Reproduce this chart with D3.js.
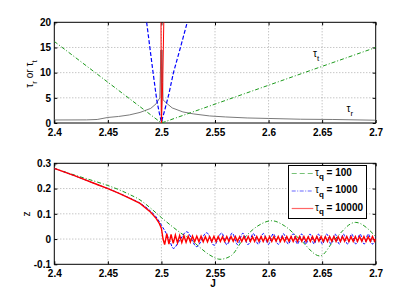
<!DOCTYPE html>
<html><head><meta charset="utf-8">
<script src="https://cdn.jsdelivr.net/npm/d3@7"></script>
<style>body{margin:0;background:#fff}svg{display:block}text{font-family:"Liberation Sans",Arial,sans-serif}</style>
</head><body><svg id="c" width="415" height="298"></svg>
<script>
// ---------- data ----------
const xTickValues = [2.4, 2.45, 2.5, 2.55, 2.6, 2.65, 2.7];
const xTickLabels = ["2.4", "2.45", "2.5", "2.55", "2.6", "2.65", "2.7"];
const topYTickValues = [0, 5, 10, 15, 20];
const topYTickLabels = ["0", "5", "10", "15", "20"];
const botYTickValues = [-0.1, 0, 0.1, 0.2, 0.3];
const botYTickLabels = ["-0.1", "0", "0.1", "0.2", "0.3"];
const legendLabels = ["100", "1000", "10000"];

// top panel: tau_t for each tau_q and tau_r  [J, tau]
const tauT100 = [[2.4, 16.2], [2.5, 0], [2.7, 15]];
const tauT1000 = [[2.4862, 20], [2.4892, 15], [2.4922, 10], [2.4956, 4.6], [2.498, 2], [2.5, 0.2],
  [2.503, 2.5], [2.507, 5.8], [2.5111, 9.9], [2.518, 15.2], [2.5241, 20]];
const tauT10000 = [[2.4996, 20], [2.4999, 3], [2.5, 0], [2.5012, 8], [2.5022, 20]];
const tauR = [[2.4, 0.6], [2.43, 0.62], [2.44, 0.7], [2.45, 1.1], [2.46, 1.3], [2.47, 1.6], [2.48, 2.1],
  [2.49, 2.9], [2.495, 3.8], [2.4985, 5.0], [2.4995, 14.5], [2.5, 0.3], [2.5005, 14.5], [2.5015, 4.6],
  [2.505, 3.9], [2.51, 3.0], [2.52, 2.2], [2.53, 1.8], [2.545, 1.4], [2.56, 1.2], [2.58, 1.0],
  [2.6, 0.9], [2.63, 0.75], [2.66, 0.7], [2.7, 0.55]];

// bottom panel: z for each tau_q  [J, z]
const z100 = [[2.4, 0.28], [2.42, 0.252], [2.44, 0.226], [2.45, 0.212], [2.46, 0.196], [2.47, 0.177],
  [2.48, 0.155], [2.49, 0.122], [2.5, 0.085], [2.51, 0.05], [2.52, 0.018], [2.527, 0], [2.535, -0.03],
  [2.545, -0.063], [2.5547, -0.08], [2.565, -0.066], [2.5765, 0], [2.59, 0.052], [2.603, 0.0725],
  [2.615, 0.052], [2.629, 0], [2.648, -0.067], [2.662, 0], [2.681, 0.066], [2.7, 0.01]];
const z1000 = [[2.4, 0.28], [2.42, 0.249], [2.44, 0.216], [2.45, 0.2], [2.46, 0.182], [2.47, 0.163],
  [2.48, 0.142], [2.49, 0.11], [2.495, 0.088], [2.5, 0.055], [2.505, 0.018], [2.508, -0.01],
  [2.5111, -0.037], [2.517, -0.005], [2.5236, 0.029], [2.5329, -0.030], [2.5422, 0.025],
  [2.5492, -0.025], [2.5562, 0.024], [2.5611, -0.023], [2.566, 0.024], [2.571, -0.022], [2.576, 0.023],
  [2.5808, -0.022], [2.5857, 0.022], [2.5904, -0.021], [2.5951, 0.022], [2.5998, -0.021], [2.6044, 0.021],
  [2.6091, -0.021], [2.6138, 0.021], [2.6184, -0.02], [2.623, 0.021], [2.627, -0.02], [2.6309, 0.02],
  [2.6348, -0.02], [2.6387, 0.02], [2.6425, -0.02], [2.6464, 0.02], [2.6503, -0.02], [2.6543, 0.02],
  [2.6582, -0.02], [2.6621, 0.02], [2.666, -0.02], [2.6698, 0.02], [2.6737, -0.02], [2.6776, 0.02],
  [2.6815, -0.02], [2.6854, 0.02], [2.6892, -0.02], [2.6931, 0.02], [2.697, -0.02], [2.7, 0.01]];
const z10000 = [[2.4, 0.28], [2.42, 0.249], [2.44, 0.216], [2.45, 0.2], [2.46, 0.182], [2.47, 0.162],
  [2.48, 0.141], [2.49, 0.106], [2.495, 0.082], [2.498, 0.062], [2.5, 0.042], [2.5015, 0.0],
  [2.503, -0.022], [2.505, 0.021], [2.507, -0.020], [2.509, 0.018], [2.511, -0.017], [2.513, 0.016], [2.515, -0.015], [2.517, 0.014], [2.519, -0.014], [2.521, 0.013],
  [2.523, -0.013], [2.525, 0.012], [2.527, -0.012], [2.529, 0.012], [2.531, -0.011], [2.533, 0.011], [2.535, -0.011], [2.537, 0.011], [2.539, -0.011], [2.541, 0.010],
  [2.543, -0.011], [2.545, 0.010], [2.547, -0.010], [2.549, 0.011], [2.551, -0.010], [2.553, 0.010], [2.555, -0.010], [2.557, 0.009], [2.559, -0.010], [2.561, 0.010],
  [2.563, -0.010], [2.565, 0.010], [2.567, -0.009], [2.569, 0.010], [2.571, -0.010], [2.573, 0.009], [2.575, -0.010], [2.577, 0.010], [2.579, -0.009], [2.581, 0.010],
  [2.583, -0.010], [2.585, 0.009], [2.587, -0.010], [2.589, 0.010], [2.591, -0.009], [2.593, 0.010], [2.595, -0.010], [2.597, 0.009], [2.599, -0.010], [2.601, 0.010],
  [2.603, -0.010], [2.605, 0.010], [2.607, -0.009], [2.609, 0.010], [2.611, -0.010], [2.613, 0.009], [2.615, -0.010], [2.617, 0.010], [2.619, -0.009], [2.621, 0.010],
  [2.623, -0.010], [2.625, 0.009], [2.627, -0.010], [2.629, 0.010], [2.631, -0.009], [2.633, 0.010], [2.635, -0.010], [2.637, 0.009], [2.639, -0.010], [2.641, 0.010],
  [2.643, -0.010], [2.645, 0.010], [2.647, -0.009], [2.649, 0.010], [2.651, -0.010], [2.653, 0.009], [2.655, -0.010], [2.657, 0.010], [2.659, -0.009], [2.661, 0.010],
  [2.663, -0.010], [2.665, 0.009], [2.667, -0.010], [2.669, 0.010], [2.671, -0.009], [2.673, 0.010], [2.675, -0.010], [2.677, 0.009], [2.679, -0.010], [2.681, 0.010],
  [2.683, -0.010], [2.685, 0.010], [2.687, -0.009], [2.689, 0.010], [2.691, -0.010], [2.693, 0.009], [2.695, -0.010], [2.697, 0.010], [2.699, -0.009], [2.7, 0.0]];

// ---------- drawing ----------
const svg = d3.select("#c");
const X0 = 54.3, X1 = 375.7;
const x = d3.scaleLinear([2.4, 2.7], [X0, X1]);
const yT = d3.scaleLinear([0, 20], [123, 22.3]);
const yB = d3.scaleLinear([-0.1, 0.3], [264.3, 163.3]);

const GREEN = "#1c9a1c", BLUE = "#0000ff", RED = "#ff0000", GRAY = "#7a7a7a";

function panel(id, y, yTicks, yLabels) {
  const g = svg.append("g");
  const [yb, yt] = y.range();
  g.append("clipPath").attr("id", id).append("rect")
    .attr("x", X0).attr("y", yt).attr("width", X1 - X0).attr("height", yb - yt);
  g.append("g").selectAll("line").data(xTickValues.slice(1, -1)).join("line")
    .attr("x1", d => x(d)).attr("x2", d => x(d)).attr("y1", yt).attr("y2", yb)
    .attr("stroke", "#999").attr("stroke-width", 0.8).attr("stroke-dasharray", "1,2");
  g.append("g").selectAll("line").data(yTicks.slice(1, -1)).join("line")
    .attr("x1", X0).attr("x2", X1).attr("y1", d => y(d)).attr("y2", d => y(d))
    .attr("stroke", "#999").attr("stroke-width", 0.8).attr("stroke-dasharray", "1,2");
  const fmtX = d => xTickLabels[xTickValues.indexOf(d)];
  const fmtY = d => yLabels[yTicks.indexOf(d)];
  const ax = (axis, tx, ty) => {
    const a = g.append("g").attr("transform", `translate(${tx},${ty})`).call(axis);
    a.select(".domain").remove();
    a.selectAll("line").attr("stroke", "#000");
    a.selectAll("text").attr("font-size", 10).attr("font-weight", "bold").attr("fill", "#000")
      .attr("font-family", "Liberation Sans, Arial, sans-serif");
    return a;
  };
  ax(d3.axisBottom(x).tickValues(xTickValues).tickFormat(fmtX).tickSize(-3).tickPadding(5.5), 0, yb);
  ax(d3.axisTop(x).tickValues(xTickValues).tickFormat("").tickSize(-3), 0, yt);
  ax(d3.axisLeft(y).tickValues(yTicks).tickFormat(fmtY).tickSize(-3).tickPadding(3.3), X0, 0);
  ax(d3.axisRight(y).tickValues(yTicks).tickFormat("").tickSize(-3), X1, 0);
  g.append("rect").attr("x", X0).attr("y", yt).attr("width", X1 - X0).attr("height", yb - yt)
    .attr("fill", "none").attr("stroke", "#000").attr("stroke-width", 1);
  return g.append("g").attr("clip-path", `url(#${id})`);
}

const topP = panel("clipT", yT, topYTickValues, topYTickLabels);
const botP = panel("clipB", yB, botYTickValues, botYTickLabels);

const lineT = d3.line().x(d => x(d[0])).y(d => yT(d[1]));
const lineB = d3.line().x(d => x(d[0])).y(d => yB(d[1]));
const lineBs = d3.line().x(d => x(d[0])).y(d => yB(d[1])).curve(d3.curveMonotoneX);

topP.append("path").attr("d", lineT(tauR)).attr("fill", "none").attr("stroke", GRAY).attr("stroke-width", 1);
topP.append("path").attr("d", lineT(tauT100)).attr("fill", "none").attr("stroke", GREEN)
  .attr("stroke-width", 1).attr("stroke-dasharray", "4,2,1,2");
topP.append("path").attr("d", lineT(tauT1000)).attr("fill", "none").attr("stroke", BLUE)
  .attr("stroke-width", 1.2).attr("stroke-dasharray", "4,2");
topP.append("path").attr("d", lineT(tauT10000)).attr("fill", "none").attr("stroke", RED).attr("stroke-width", 1);

botP.append("path").attr("d", lineBs(z100)).attr("fill", "none").attr("stroke", GREEN)
  .attr("stroke-width", 1).attr("stroke-dasharray", "4,2,1,2");
botP.append("path").attr("d", lineBs(z1000)).attr("fill", "none").attr("stroke", BLUE)
  .attr("stroke-width", 1).attr("stroke-dasharray", "3,1.5");
botP.append("path").attr("d", lineB(z10000)).attr("fill", "none").attr("stroke", RED).attr("stroke-width", 1.4);

function tauText(parent, px, py, sub, size) {
  const t = parent.append("text").attr("x", px).attr("y", py).attr("font-size", size).attr("fill", "#000");
  t.append("tspan").text("τ");
  t.append("tspan").attr("dy", size * 0.35).attr("font-size", size * 0.8).text(sub);
  return t;
}
tauText(svg, 313, 57, "t", 10);
tauText(svg, 346.5, 112, "r", 10);

const yl = svg.append("text").attr("transform", "translate(33,74) rotate(-90)")
  .attr("text-anchor", "middle").attr("font-size", 10).attr("fill", "#000");
yl.append("tspan").text("τ");
yl.append("tspan").attr("dy", 3.5).attr("font-size", 8).text("r");
yl.append("tspan").attr("dy", -3.5).text(" or τ");
yl.append("tspan").attr("dy", 3.5).attr("font-size", 8).text("t");

svg.append("text").attr("transform", "translate(30,214) rotate(-90)")
  .attr("text-anchor", "middle").attr("font-size", 10).attr("fill", "#000").text("z");
svg.append("text").attr("x", 213).attr("y", 287).attr("text-anchor", "middle")
  .attr("font-size", 10).attr("font-weight", "bold").attr("fill", "#000").text("J");

const lg = svg.append("g");
lg.append("rect").attr("x", 288.5).attr("y", 165.5).attr("width", 78).attr("height", 53)
  .attr("fill", "#fff").attr("stroke", "#000").attr("stroke-width", 1);
const legColors = [GREEN, BLUE, RED];
const legDash = ["5,3", "4,1.5,1,1.5", null];
const legY = [173.5, 191, 208.5];
legendLabels.forEach((lab, i) => {
  const l = lg.append("line").attr("x1", 291.7).attr("x2", 313.3).attr("y1", legY[i]).attr("y2", legY[i])
    .attr("stroke", legColors[i]).attr("stroke-width", 1.2).attr("stroke-opacity", 0.6);
  if (legDash[i]) l.attr("stroke-dasharray", legDash[i]);
  const t = lg.append("text").attr("x", 315).attr("y", legY[i] + 2).attr("font-size", 10)
    .attr("font-weight", "bold").attr("fill", "#000");
  t.append("tspan").attr("font-weight", "normal").text("τ");
  t.append("tspan").attr("dy", 3.5).attr("font-size", 8).text("q");
  t.append("tspan").attr("dy", -3.5).text(" = " + lab);
});
</script></body></html>
